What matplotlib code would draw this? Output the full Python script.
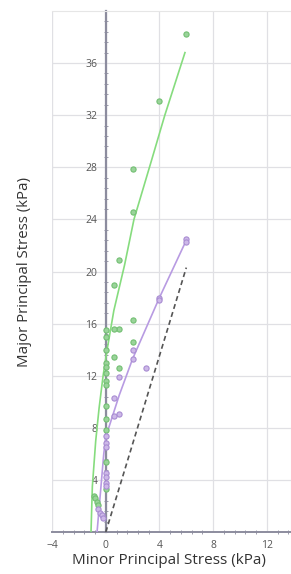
import numpy as np
import matplotlib.pyplot as plt
from matplotlib.ticker import MultipleLocator

# Green data set (minor, major principal stress)
green_x = [6, 4, 2, 2, 2, 2, 1, 1, 1, 0.6, 0.6, 0.6,
           0, 0, 0, 0, 0, 0, 0, 0, 0, 0, 0, 0, 0,
           -0.9, -0.8, -0.65, -0.55]
green_y = [38.2, 33.1, 27.9, 24.6, 16.3, 14.6, 20.9, 15.6, 12.6, 19.0, 15.6, 13.4,
           15.5, 15.0, 14.0, 13.0, 12.7, 12.2, 11.6, 11.3, 9.7, 8.7, 7.8, 5.4, 3.3,
           2.8, 2.6, 2.3, 2.1]

# Purple data set
purple_x = [6, 6, 4, 4, 3, 2, 2, 1, 1, 0.6, 0.6,
            0, 0, 0, 0, 0, 0, 0,
            -0.6, -0.45, -0.3, -0.2]
purple_y = [22.5, 22.3, 18.0, 17.8, 12.6, 14.0, 13.3, 11.9, 9.05, 10.3, 8.9,
            7.4, 6.8, 6.5, 4.5, 4.2, 3.8, 3.5,
            1.8, 1.5, 1.3, 1.1]

# Fitted envelopes
green_fit_x = [-1.1, -1.0, -0.75, -0.5, -0.2, 0.1, 0.6, 1.4, 2.1, 3.4, 4.4, 5.9]
green_fit_y = [0, 3.5, 7.0, 9.5, 12.0, 14.0, 17.0, 20.5, 24.0, 28.5, 32.0, 36.8]
purple_fit_x = [-0.65, -0.4, -0.15, 0, 1, 2, 4, 6]
purple_fit_y = [0, 3.0, 6.0, 7.3, 10.5, 13.3, 18.0, 22.4]
ref_x = [0, 6]
ref_y = [0, 20.3]

plt.rcParams['font.family'] = ['Open Sans', 'DejaVu Sans']

fig = plt.figure(figsize=(2.91, 5.74), dpi=100)
ax = fig.add_axes([0.179, 0.073, 0.821, 0.908])

ax.plot(ref_x, ref_y, '--', color='#555555', lw=1.2, dashes=(3, 2), zorder=3)
ax.plot(green_fit_x, green_fit_y, '-', color='#86dc7e', lw=1.2, zorder=3)
ax.plot(purple_fit_x, purple_fit_y, '-', color='#b89be2', lw=1.2, zorder=3)
ax.scatter(green_x, green_y, s=14, facecolor='#9ad39a', edgecolor='#72bf72',
           linewidth=0.8, zorder=4)
ax.scatter(purple_x, purple_y, s=14, facecolor='#cdb8e8', edgecolor='#a88cd2',
           linewidth=0.8, zorder=4)

ax.set_xlim(-4.0, 13.8)
ax.set_ylim(0, 40)
ax.xaxis.set_major_locator(MultipleLocator(4))
ax.yaxis.set_major_locator(MultipleLocator(4))
ax.xaxis.set_minor_locator(MultipleLocator(0.8))
ax.yaxis.set_minor_locator(MultipleLocator(0.8))
ax.grid(True, which='major', color='#e0e0e4', lw=0.9)
ax.set_axisbelow(True)

ax.spines['left'].set_position(('data', 0))
ax.spines['left'].set_color('#8c8c9e')
ax.spines['left'].set_linewidth(1.6)
ax.spines['bottom'].set_color('#8c8c9e')
ax.spines['bottom'].set_linewidth(1.4)
for s in ['top', 'right']:
    ax.spines[s].set_color('#e6e6e6')
ax.tick_params(which='both', colors='#8c8c9e', labelcolor='#555555', labelsize=7.5,
               direction='inout')
ax.tick_params(which='major', length=0, pad=6)
ax.tick_params(which='minor', length=2.5, width=0.6)
ax.set_yticks(np.arange(4, 40, 4))
ax.set_yticklabels([str(v) for v in range(4, 40, 4)])

# light frame on the left edge
ax.axvline(-4.0, color='#e6e6e6', lw=1.5, zorder=0)

fig.text(0.58, 0.01, 'Minor Principal Stress (kPa)', ha='center', va='bottom',
         fontsize=11, color='#333333')
fig.text(0.085, 0.527, 'Major Principal Stress (kPa)', ha='center', va='center',
         rotation=90, fontsize=10.8, color='#333333')

fig.savefig('out.png', dpi=100)
